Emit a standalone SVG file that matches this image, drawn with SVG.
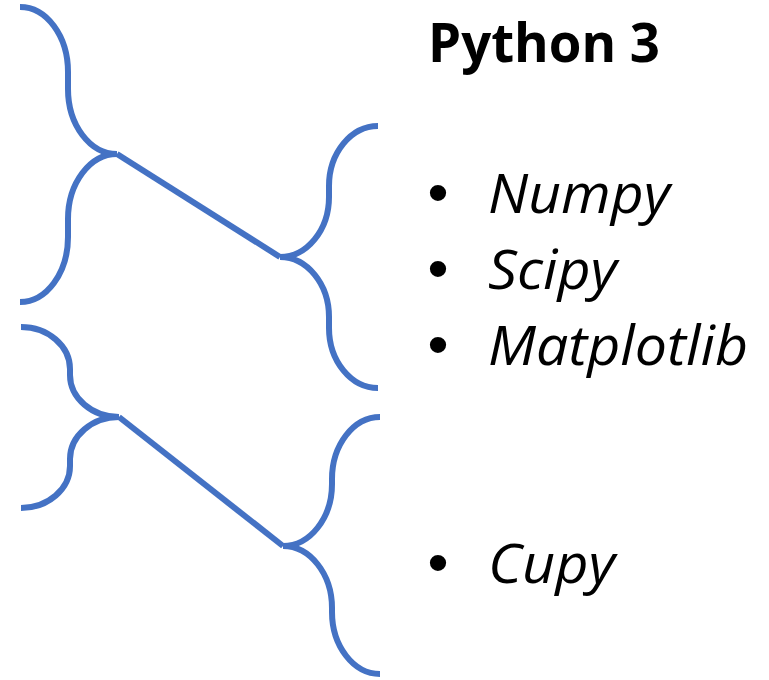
<svg xmlns="http://www.w3.org/2000/svg" width="769" height="680" viewBox="0 0 769 680">
<style>
.brace{fill:none;stroke:#4472C4;stroke-width:6;stroke-linecap:butt;stroke-linejoin:miter}
.conn{fill:none;stroke:#4472C4;stroke-width:6;stroke-linecap:butt}
.title{font-family:"Open Sans","Liberation Sans",sans-serif;font-weight:bold;font-size:54px;fill:#000}
.item{font-family:"Open Sans","Liberation Sans",sans-serif;font-style:italic;font-size:55px;fill:#000}
.bullet{font-family:"Liberation Sans",sans-serif;font-size:60px;fill:#000;text-anchor:middle}
</style>
<rect width="769" height="680" fill="#fff"/>
<g id="brace-left-1"><path class="brace" d="M20,7 C46.5,7 68,36 68,72 L68,89 C68,125 90,154 117,154 C90,154 68,183 68,219 L68,237 C68,273 46.5,302 20,302"/></g>
<g id="brace-right-1"><path class="brace" d="M378,126 C351,126 329,153 329,186 L329,197 C329,230 307,257 280,257 C307,257 329,284 329,317 L329,328 C329,361 351,388 378,388"/></g>
<g id="brace-left-2"><path class="brace" d="M21,327 C48,327 70,346 70,369 L70,375 C70,398 92,417 119,417 C92,417 70,436 70,459 L70,466 C70,489 48,508 21,508"/></g>
<g id="brace-right-2"><path class="brace" d="M380,417 C353.5,417 332,445 332,479 L332,484 C332,518 310,546 283,546 C310,546 332,574 332,608 L332,612 C332,646 353.5,674 380,674"/></g>
<g id="connectors">
<line class="conn" x1="117" y1="154" x2="280" y2="257"/>
<line class="conn" x1="119" y1="417" x2="283" y2="546"/>
</g>
<g id="title"><text class="title" x="428" y="62" textLength="232" lengthAdjust="spacingAndGlyphs">Python 3</text></g>
<g id="list-1">
<text class="bullet" x="438" y="213">•</text><text class="item" x="488" y="213" textLength="182" lengthAdjust="spacingAndGlyphs">Numpy</text>
<text class="bullet" x="438" y="289">•</text><text class="item" x="488" y="289" textLength="129" lengthAdjust="spacingAndGlyphs">Scipy</text>
<text class="bullet" x="438" y="365">•</text><text class="item" x="488" y="365" textLength="260" lengthAdjust="spacingAndGlyphs">Matplotlib</text>
</g>
<g id="list-2">
<text class="bullet" x="438" y="583">•</text><text class="item" x="488" y="583" textLength="127" lengthAdjust="spacingAndGlyphs">Cupy</text>
</g>
</svg>
